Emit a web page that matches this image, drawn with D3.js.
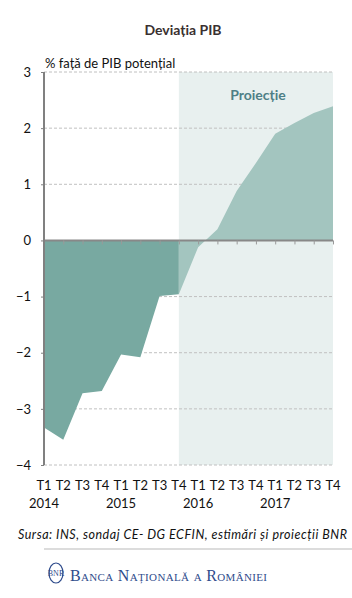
<!DOCTYPE html>
<html>
<head>
<meta charset="utf-8">
<script src="https://cdn.jsdelivr.net/npm/d3@7"></script>
<style>
  html, body { margin: 0; padding: 0; background: #fff; }
  svg { display: block; font-family: "Lato", "Open Sans", sans-serif; }
</style>
</head>
<body>
<script>
// quarters (T1..T4) for 2014-2017
var quarters = ["T1","T2","T3","T4","T1","T2","T3","T4","T1","T2","T3","T4","T1","T2","T3","T4"];
var years = ["2014", "2015", "2016", "2017"];
// output gap, % of potential GDP
var gapHist = [-3.33, -3.55, -2.72, -2.68, -2.03, -2.08, -0.99, -0.96];
var gapProj = [-0.96, -0.12, 0.2, 0.88, 1.38, 1.9, 2.09, 2.27, 2.39];
var yTicks = [3, 2, 1, 0, -1, -2, -3, -4];

var W = 352, H = 598;
var svg = d3.select("body").append("svg")
  .attr("width", W)
  .attr("height", H);

var x = d3.scaleLinear().domain([0, quarters.length - 1]).range([44, 333]);
var y = d3.scaleLinear().domain([-4, 3]).range([465, 72]);

// projection band
svg.append("rect")
  .attr("x", x(gapHist.length - 1))
  .attr("y", y(3))
  .attr("width", x(quarters.length - 1) - x(gapHist.length - 1))
  .attr("height", y(-4) - y(3))
  .attr("fill", "#e8f0ef");

// gridlines
svg.append("g")
  .selectAll("line")
  .data(yTicks.filter(d => d !== 0))
  .join("line")
  .attr("x1", x(0))
  .attr("x2", x(quarters.length - 1))
  .attr("y1", d => y(d))
  .attr("y2", d => y(d))
  .attr("stroke", "#c0c0c0")
  .attr("stroke-width", 1)
  .attr("stroke-dasharray", "3,2");

var area = d3.area()
  .x(d => x(d.i))
  .y0(y(0))
  .y1(d => y(d.v));

svg.append("path")
  .datum(gapHist.map((v, i) => ({ i: i, v: v })))
  .attr("d", area)
  .attr("fill", "#78a9a1");

svg.append("path")
  .datum(gapProj.map((v, i) => ({ i: i + gapHist.length - 1, v: v })))
  .attr("d", area)
  .attr("fill", "#a3c5bf");

// zero line with ticks
svg.append("g")
  .attr("transform", "translate(0," + y(0) + ")")
  .call(d3.axisBottom(x).tickValues(d3.range(1, quarters.length)).tickSize(4).tickFormat(""))
  .call(g => g.select(".domain").attr("stroke", "#888").attr("stroke-width", 2).attr("d", "M" + x(0) + ",0H" + x(quarters.length - 1)))
  .call(g => g.selectAll(".tick line").attr("stroke", "#999").attr("stroke-width", 1));

// y axis
svg.append("g")
  .attr("transform", "translate(" + x(0) + ",0)")
  .call(d3.axisLeft(y).tickValues(yTicks).tickSize(3).tickPadding(10).tickFormat(d3.format("d")))
  .call(g => g.select(".domain").attr("stroke", "#808080").attr("stroke-width", 2).attr("d", "M0," + y(3) + "V" + y(-4)))
  .call(g => g.selectAll(".tick line").attr("stroke", "#808080"))
  .call(g => g.selectAll(".tick text").attr("font-size", 13).attr("fill", "#111").attr("font-family", "Lato, sans-serif"));

// x labels
svg.append("g")
  .selectAll("text")
  .data(quarters)
  .join("text")
  .attr("x", (d, i) => x(i))
  .attr("y", 490)
  .attr("text-anchor", "middle")
  .attr("font-size", 13)
  .attr("fill", "#111")
  .text(d => d);

svg.append("g")
  .selectAll("text")
  .data(years)
  .join("text")
  .attr("x", (d, i) => x(i * 4))
  .attr("y", 508)
  .attr("text-anchor", "middle")
  .attr("font-size", 13)
  .attr("fill", "#111")
  .text(d => d);

// titles
svg.append("text")
  .attr("x", 183).attr("y", 35)
  .attr("text-anchor", "middle")
  .attr("font-size", 14).attr("font-weight", "bold")
  .attr("fill", "#3a3030")
  .text("Deviația PIB");

svg.append("text")
  .attr("x", 45).attr("y", 68)
  .attr("font-size", 13)
  .attr("fill", "#111")
  .text("% față de PIB potențial");

svg.append("text")
  .attr("x", 258).attr("y", 100)
  .attr("text-anchor", "middle")
  .attr("font-size", 14).attr("font-weight", "bold")
  .attr("fill", "#4d7f86")
  .text("Proiecție");

// source
svg.append("text")
  .attr("x", 18).attr("y", 539)
  .attr("font-size", 12.5).attr("font-style", "italic")
  .attr("fill", "#111")
  .attr("textLength", 329)
  .text("Sursa: INS, sondaj CE- DG ECFIN, estimări și proiecții BNR");

svg.append("line")
  .attr("x1", 44).attr("x2", 352)
  .attr("y1", 549).attr("y2", 549)
  .attr("stroke", "#d0d0d0").attr("stroke-width", 1.5);

// logo
var logo = svg.append("g").attr("transform", "translate(56,575)");
logo.append("ellipse").attr("cx", 0).attr("cy", -2).attr("rx", 7).attr("ry", 10)
  .attr("fill", "none").attr("stroke", "#2f4c8c").attr("stroke-width", 1.2);
logo.append("text").attr("x", 0).attr("y", 1).attr("text-anchor", "middle")
  .attr("font-size", 8).attr("font-family", "Liberation Serif, serif").attr("fill", "#2f4c8c").text("BNR");
logo.append("text")
  .attr("x", 14).attr("y", 6)
  .attr("font-family", "Liberation Serif, DejaVu Serif, serif")
  .attr("font-size", 16)
  .attr("font-variant", "small-caps")
  .attr("fill", "#2f4c8c")
  .attr("textLength", 197)
  .text("Banca Națională a României");
</script>
</body>
</html>
